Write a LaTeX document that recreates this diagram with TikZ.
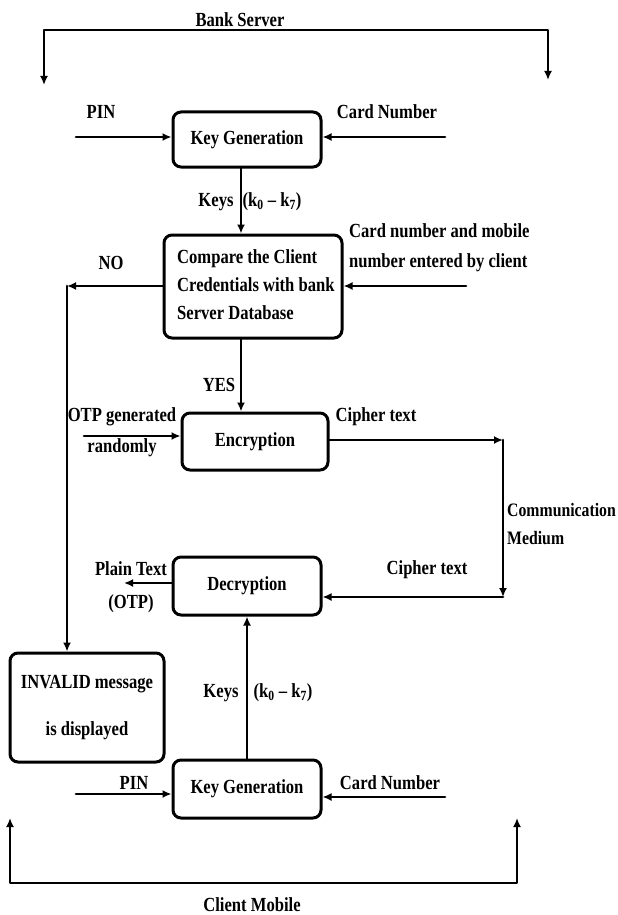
\documentclass[tikz,border=0pt]{standalone}
\usepackage{fontspec}
\setmainfont{Liberation Serif}[FakeStretch=0.83]
\usetikzlibrary{arrows.meta,calc}

\begin{document}
\begin{tikzpicture}[x=1pt, y=-1pt, >={Latex[length=9pt,width=8pt]}, line cap=round, line join=round]

% ---------------- styles ----------------
\tikzset{
  flow/.style={->, line width=2.8pt},
  box/.style={draw, line width=3pt, rounded corners=8pt, inner sep=0pt,
    font=\fontsize{20}{30}\selectfont\bfseries},
  label/.style={font=\fontsize{20}{30}\selectfont\bfseries, inner sep=0pt}
}

\useasboundingbox (0,0) rectangle (618,915);

% ---------------- blocks ----------------
\node[box, minimum width=148pt, minimum height=55pt] (kgA) at (247,139.5) {Key Generation};
\node[box, minimum width=178pt, minimum height=103pt] (cmp) at (253,286.5) {};
\node[label, anchor=west, align=left, font=\fontsize{20}{28}\selectfont\bfseries]
  (cmpText) at (177,285) {Compare the Client\\Credentials with bank\\Server Database};
\node[box, minimum width=146pt, minimum height=57pt] (enc) at (255,441.5) {Encryption};
\node[box, minimum width=148pt, minimum height=58pt] (dec) at (247,586) {Decryption};
\node[box, minimum width=154pt, minimum height=109pt, align=center] (inv) at (87,707.5)
  {INVALID message\\[17pt]is displayed};
\node[box, minimum width=148pt, minimum height=58pt] (kgB) at (247,789) {Key Generation};

% ---------------- connector ends ----------------
\coordinate (bankL) at (44,85);
\coordinate (bankNW) at (44,30);
\coordinate (bankNE) at (548,30);
\coordinate (bankR) at (548,80);
\coordinate (pinA) at (76,137);
\coordinate (cardA) at (445,137);
\coordinate (cred) at (466,286);
\coordinate (noTurn) at (67,286);
\coordinate (otp) at (84,436);
\coordinate (medTop) at (503,440);
\coordinate (medBot) at (503,597);
\coordinate (plain) at (124,583);
\coordinate (pinB) at (76,794);
\coordinate (cardB) at (445,797);
\coordinate (clientL) at (10,818);
\coordinate (clientSW) at (10,883);
\coordinate (clientSE) at (517,883);
\coordinate (clientR) at (517,818);

% ---------------- bank server side ----------------
\draw[flow, <->] (bankL) -- (bankNW) -- (bankNE) -- (bankR);
\node[label] (bank) at (240,20) {Bank Server};

\draw[flow] (pinA) -- (pinA -| kgA.west);
\node[label] (pinALabel) at (101,112) {PIN};
\draw[flow] (cardA) -- (cardA -| kgA.east);
\node[label] (cardALabel) at (387,112) {Card Number};

\draw[flow] ([xshift=-6pt]kgA.south) -- ([xshift=-6pt]kgA.south |- cmp.north);
\node[label] (keysA) at (216,202) {Keys};
\node[label] (rangeA) at (272,202) {(k\textsubscript{0} – k\textsubscript{7})};

\draw[flow] (cred) -- (cred -| cmp.east);
\node[label, anchor=west, align=left] (credLabel) at (349,248)
  {Card number and mobile\\number entered by client};

% NO branch
\draw[flow] (cmp.west |- noTurn) -- (noTurn);
\draw[flow] (noTurn) -- (noTurn |- inv.north);
\node[label] (no) at (111,263) {NO};

% YES branch
\draw[flow] ([xshift=-12pt]cmp.south) -- ([xshift=-12pt]cmp.south |- enc.north);
\node[label] (yes) at (219,385) {YES};

\draw[flow] (otp) -- (otp -| enc.west);
\node[label, align=center, font=\fontsize{20}{31}\selectfont\bfseries] (otpLabel) at (122,432)
  {OTP generated\\randomly};

% ---------------- communication medium ----------------
\draw[flow] (enc.east |- medTop) -- (medTop);
\draw[flow] (medTop) -- (medBot);
\draw[flow] (medBot) -- (medBot -| dec.east);
\node[label] (cipherA) at (376,417) {Cipher text};
\node[label, anchor=west, align=left, font=\fontsize{19}{28}\selectfont\bfseries] (medium) at (507,524)
  {Communication\\Medium};
\node[label] (cipherB) at (427,570) {Cipher text};

% ---------------- client mobile side ----------------
\draw[flow] (dec.west |- plain) -- (plain);
\node[label, align=center, font=\fontsize{20}{33}\selectfont\bfseries] (plainLabel) at (131,587)
  {Plain Text\\(OTP)};

\draw[flow] (kgB.north) -- (kgB.north |- dec.south);
\node[label] (keysB) at (221,693) {Keys};
\node[label] (rangeB) at (283,693) {(k\textsubscript{0} – k\textsubscript{7})};

\draw[flow] (pinB) -- (pinB -| kgB.west);
\node[label] (pinBLabel) at (134,783) {PIN};
\draw[flow] (cardB) -- (cardB -| kgB.east);
\node[label] (cardBLabel) at (390,783) {Card Number};

\draw[flow, <->] (clientL) -- (clientSW) -- (clientSE) -- (clientR);
\node[label] (client) at (252,905) {Client Mobile};

\end{tikzpicture}
\end{document}
